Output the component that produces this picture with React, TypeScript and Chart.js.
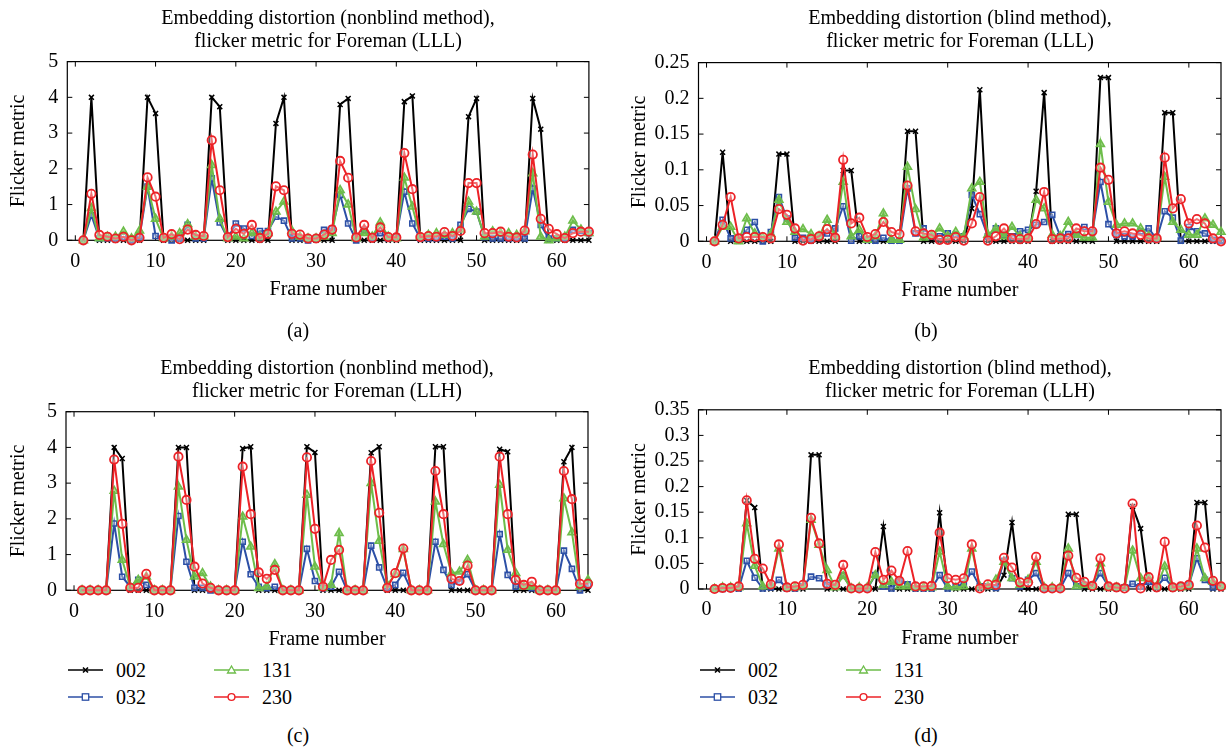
import React, { useEffect, useRef } from 'react';
import { Chart, registerables } from 'chart.js';

Chart.register(...registerables);

const FONT = "'Liberation Serif', 'Times New Roman', serif";

// ---- categories ----
const FRAMES = [1,2,3,4,5,6,7,8,9,10,11,12,13,14,15,16,17,18,19,20,21,22,23,24,25,26,27,28,29,30,31,32,33,34,35,36,37,38,39,40,41,42,43,44,45,46,47,48,49,50,51,52,53,54,55,56,57,58,59,60,61,62,63,64];
const SERIES_NAMES = ['002', '032', '131', '230'];

// ---- tick labels ----
const X_TICK_VALUES = [0, 10, 20, 30, 40, 50, 60];
const X_TICK_LABELS = ['0', '10', '20', '30', '40', '50', '60'];
const Y_TICKS_BIG = [0, 1, 2, 3, 4, 5];
const Y_LABELS_BIG = ['0', '1', '2', '3', '4', '5'];
const Y_TICKS_B = [0, 0.05, 0.1, 0.15, 0.2, 0.25];
const Y_LABELS_B = ['0', '0.05', '0.1', '0.15', '0.2', '0.25'];
const Y_TICKS_D = [0, 0.05, 0.1, 0.15, 0.2, 0.25, 0.3, 0.35];
const Y_LABELS_D = ['0', '0.05', '0.1', '0.15', '0.2', '0.25', '0.3', '0.35'];

// ---- (a) nonblind, LLL ----
const A_002 = [0,4.0,0,0,0,0,0,0, 4.0,3.55,0,0,0,0,0,0, 4.0,3.74,0,0,0,0,0,0, 3.27,4.0,0,0,0,0,0,0, 3.8,3.97,0,0,0,0,0,0, 3.88,4.04,0,0,0,0,0,0, 3.46,3.97,0,0,0,0,0,0, 3.97,3.11,0,0,0,0,0,0];
const A_032 = [0,0.7,0.05,0.05,0.05,0.1,0,0.1, 1.5,0.12,0.05,0,0.05,0.43,0.05,0.05, 1.73,0.5,0.05,0.47,0.33,0.12,0.26,0.26, 0.66,0.55,0.05,0.05,0,0.05,0.29,0.33, 1.27,0.47,0,0.29,0.05,0.2,0.05,0.1, 1.36,0.47,0.05,0.05,0.05,0.1,0.05,0.43, 0.88,0.8,0.09,0.05,0.05,0.05,0.05,0.05, 1.45,0.43,0.05,0.05,0.05,0.29,0.26,0.2];
const A_131 = [0,0.9,0.05,0.1,0.1,0.24,0.05,0.27, 1.5,0.6,0.05,0.1,0.2,0.45,0.1,0.1, 2.1,0.6,0.05,0.1,0.05,0.2,0.1,0.2, 0.8,1.08,0.26,0.1,0.05,0.05,0.1,0.2, 1.4,1.0,0.05,0.2,0.1,0.5,0.1,0.05, 1.75,0.94,0.1,0.15,0.2,0.15,0.2,0.3, 1.08,0.8,0.1,0.25,0.2,0.2,0.15,0.25, 1.87,0.1,0,0.05,0.1,0.55,0.3,0.2];
const A_230 = [0,1.3,0.15,0.1,0.05,0.1,0,0.07, 1.76,1.22,0.07,0.17,0.03,0.3,0.15,0.12, 2.8,1.4,0.09,0.32,0.18,0.43,0.06,0.18, 1.51,1.4,0.18,0.16,0.05,0.05,0.16,0.3, 2.22,1.75,0.08,0.43,0.07,0.36,0.09,0.08, 2.44,1.43,0.09,0.12,0.1,0.23,0.12,0.26, 1.6,1.6,0.2,0.2,0.24,0.1,0.08,0.27, 2.4,0.6,0.32,0.17,0.06,0.2,0.24,0.24];

// ---- (b) blind, LLL ----
const B_002 = [0,0.1245,0,0,0,0,0,0, 0.122,0.122,0,0,0,0,0,0, 0.099,0.099,0,0,0,0,0,0, 0.154,0.154,0,0,0,0,0,0, 0.046,0.212,0,0,0,0,0,0, 0.07,0.208,0,0,0,0,0,0, 0.229,0.229,0,0,0,0,0,0, 0.18,0.18,0,0,0,0,0,0];
const B_032 = [0,0.03,0.004,0.002,0.016,0.027,0,0.013, 0.062,0.032,0.005,0.005,0.003,0.007,0.011,0.018, 0.049,0.001,0.007,0.002,0.001,0.005,0.001,0.001, 0.074,0.011,0.018,0.007,0.007,0.011,0.009,0.007, 0.065,0.038,0.007,0.018,0.009,0.007,0.014,0.016, 0.023,0.027,0.037,0.007,0.01,0.009,0.02,0.013, 0.083,0.024,0.009,0.007,0.007,0.014,0.018,0.003, 0.042,0.033,0.001,0.02,0.014,0.011,0.002,0.001];
const B_131 = [0,0.02,0.02,0,0.032,0.011,0.005,0.01, 0.058,0.027,0.013,0.017,0.01,0.007,0.03,0.007, 0.083,0.007,0.016,0.002,0.007,0.039,0.002,0.002, 0.104,0.045,0.005,0.008,0.018,0.007,0.013,0.007, 0.074,0.083,0.009,0.018,0.007,0.02,0.007,0.005, 0.058,0.046,0.009,0.007,0.027,0.009,0.005,0.005, 0.136,0.055,0.023,0.025,0.025,0.018,0.007,0.005, 0.09,0.027,0.016,0.009,0.009,0.032,0.023,0.013];
const B_230 = [0,0.023,0.062,0.004,0.006,0.006,0.006,0.004, 0.045,0.037,0.018,0.001,0.003,0.007,0.017,0.005, 0.114,0.025,0.033,0.006,0.01,0.027,0.013,0.01, 0.078,0.014,0.011,0.009,0.002,0.002,0.006,0.001, 0.025,0.062,0.001,0.007,0.018,0.004,0.003,0.004, 0.024,0.069,0.003,0.004,0.004,0.018,0.014,0.014, 0.103,0.086,0.011,0.014,0.011,0.009,0.004,0.004, 0.117,0.046,0.059,0.025,0.031,0.025,0.004,0];

// ---- (c) nonblind, LLH ----
const C_002 = [0,0,0,0,4.0,3.69,0,0, 0,0,0,0,4.0,4.0,0,0, 0,0,0,0,3.97,4.02,0,0, 0,0,0,0,4.02,3.86,0,0, 0,0,0,0,3.85,4.02,0,0, 0,0,0,0,4.02,4.02,0,0, 0,0,0,0,3.95,3.88,0,0, 0,0,0,0,3.6,4.0,0,0];
const C_032 = [0,0,0,0,1.87,0.38,0.1,0.29, 0.15,0,0,0,2.08,0.8,0.07,0.07, 0,0,0,0,1.36,0.45,0.1,0.06, 0.1,0,0,0,1.16,0.26,0.06,0.1, 0.52,0,0,0,1.25,0.64,0.06,0.15, 0.49,0,0,0,1.36,0.57,0.15,0.24, 0.45,0,0,0,1.57,0.43,0.1,0.1, 0.06,0,0,0,1.11,0.6,0,0.15];
const C_131 = [0,0,0,0,2.78,0.85,0.1,0.29, 0.38,0,0,0,2.9,1.41,0.38,0.48, 0.1,0,0,0,2.06,1.22,0.06,0.1, 0.73,0,0,0,2.67,0.66,0.07,0.15, 1.6,0,0,0,3.0,1.38,0.15,0.45, 1.15,0,0,0,2.48,1.29,0.48,0.52, 0.85,0,0,0,2.95,1.13,0.48,0.1, 0.1,0,0,0,2.57,1.62,0.1,0.29];
const C_230 = [0,0,0,0,3.66,1.86,0.07,0.07, 0.46,0,0,0,3.74,2.53,0.66,0.19, 0.07,0,0,0,3.46,2.13,0.5,0.32, 0.57,0,0,0,3.72,1.72,0.1,0.85, 1.13,0,0,0,3.62,2.17,0.07,0.48, 1.17,0,0,0,3.34,2.13,0.32,0.26, 0.69,0,0,0,3.74,2.13,0.29,0.15, 0.24,0,0,0,3.34,2.55,0.18,0.18];

// ---- (d) blind, LLH ----
const D_002 = [0,0,0,0,0.173,0.159,0,0, 0,0,0,0,0.262,0.262,0,0, 0,0,0,0,0,0.122,0,0, 0,0,0,0,0.149,0,0,0, 0,0,0,0,0.027,0.13,0,0, 0,0,0,0,0.146,0.146,0,0, 0,0,0,0,0.161,0.118,0,0, 0,0,0,0,0.169,0.169,0,0];
const D_032 = [0,0,0.001,0.001,0.055,0.022,0.001,0.003, 0.018,0.001,0.001,0.005,0.024,0.021,0.008,0.005, 0.026,0.001,0.001,0.001,0.027,0.005,0.001,0.016, 0.009,0.001,0.001,0.001,0.027,0.001,0.005,0.01, 0.034,0.005,0.005,0.002,0.055,0.021,0.005,0.018, 0.031,0.001,0.001,0.001,0.031,0.005,0.008,0.006, 0.031,0.005,0.003,0.003,0.01,0.005,0.014,0.005, 0.022,0.003,0.005,0.008,0.06,0.018,0.003,0.005];
const D_131 = [0,0.003,0.003,0.003,0.128,0.045,0.005,0.008, 0.079,0.003,0.003,0.005,0.135,0.086,0.037,0.003, 0.025,0.001,0.003,0.003,0.027,0.008,0.014,0.005, 0.005,0.003,0.003,0.003,0.073,0.005,0.003,0.005, 0.079,0.005,0.005,0.018,0.053,0.021,0.008,0.018, 0.053,0.003,0.003,0.003,0.079,0.005,0.008,0.005, 0.05,0.003,0.003,0.003,0.075,0.021,0.021,0.005, 0.044,0.003,0.003,0.005,0.079,0.021,0.014,0.005];
const D_230 = [0,0.002,0.002,0.005,0.173,0.059,0.04,0.009, 0.087,0.003,0.005,0.008,0.139,0.089,0.01,0.008, 0.047,0.001,0.001,0.001,0.072,0.018,0.036,0.016, 0.074,0.005,0.005,0.006,0.11,0.021,0.018,0.021, 0.087,0.001,0.009,0.008,0.061,0.042,0.013,0.013, 0.063,0.001,0.001,0.001,0.065,0.022,0.014,0.006, 0.06,0.005,0.003,0.001,0.167,0.001,0.023,0.003, 0.092,0.003,0.005,0.008,0.124,0.081,0.016,0.005];

const COLORS = { s002: '#000000', s032: '#2c4fa6', s131: '#6dbd4a', s230: '#ec2227' };

const SERIES_STYLE: any[] = [
  { color: COLORS.s002, pointStyle: 'crossRot', radius: 3.5, bg: COLORS.s002, pbw: 1.5, order: 3 },
  { color: COLORS.s032, pointStyle: 'rect', radius: 3.6, bg: 'rgba(255,255,255,0.35)', pbw: 1.6, order: 2 },
  { color: COLORS.s131, pointStyle: 'triangle', radius: 4.6, bg: 'rgba(109,189,74,0.55)', pbw: 1.6, order: 1 },
  { color: COLORS.s230, pointStyle: 'circle', radius: 4.2, bg: 'rgba(255,255,255,0.35)', pbw: 1.8, order: 0 },
];

type PanelCfg = {
  canvas: { left: number; top: number; width: number; height: number };
  area: { left: number; top: number; right: number; bottom: number };
  yMax: number;
  yTicks: number[];
  yLabels: string[];
  series: number[][];
  yTitleCenter: number;
  xTitleCenter: number;
};

const PANELS: PanelCfg[] = [
  {
    canvas: { left: 0, top: 0, width: 610, height: 305 },
    area: { left: 67.3, top: 61.6, right: 588.9, bottom: 240.3 },
    yMax: 5, yTicks: Y_TICKS_BIG, yLabels: Y_LABELS_BIG,
    series: [A_002, A_032, A_131, A_230],
    yTitleCenter: 19, xTitleCenter: 290,
  },
  {
    canvas: { left: 615, top: 0, width: 616, height: 305 },
    area: { left: 698.5, top: 62.6, right: 1221, bottom: 241.3 },
    yMax: 0.25, yTicks: Y_TICKS_B, yLabels: Y_LABELS_B,
    series: [B_002, B_032, B_131, B_230],
    yTitleCenter: 640, xTitleCenter: 291,
  },
  {
    canvas: { left: 0, top: 330, width: 610, height: 325 },
    area: { left: 66, top: 411.7, right: 588, bottom: 590.3 },
    yMax: 5, yTicks: Y_TICKS_BIG, yLabels: Y_LABELS_BIG,
    series: [C_002, C_032, C_131, C_230],
    yTitleCenter: 19, xTitleCenter: 640,
  },
  {
    canvas: { left: 615, top: 330, width: 616, height: 325 },
    area: { left: 698.5, top: 409.8, right: 1221, bottom: 589 },
    yMax: 0.35, yTicks: Y_TICKS_D, yLabels: Y_LABELS_D,
    series: [D_002, D_032, D_131, D_230],
    yTitleCenter: 640, xTitleCenter: 639,
  },
];

const boxPlugin = {
  id: 'matlabBox',
  beforeDatasetsDraw(chart: any) {
    const { ctx, chartArea, scales } = chart;
    const { left, right, top, bottom } = chartArea;
    const tl = 5;
    ctx.save();
    ctx.strokeStyle = '#000';
    ctx.lineWidth = 1.2;
    ctx.strokeRect(left, top, right - left, bottom - top);
    ctx.beginPath();
    for (const v of X_TICK_VALUES) {
      const px = scales.x.getPixelForValue(v);
      ctx.moveTo(px, bottom); ctx.lineTo(px, bottom - tl);
      ctx.moveTo(px, top); ctx.lineTo(px, top + tl);
    }
    for (const t of scales.y.ticks) {
      const py = scales.y.getPixelForValue(t.value);
      ctx.moveTo(left, py); ctx.lineTo(left + tl, py);
      ctx.moveTo(right, py); ctx.lineTo(right - tl, py);
    }
    ctx.lineWidth = 1;
    ctx.stroke();
    ctx.restore();
  },
};

function PanelChart({ cfg }: { cfg: PanelCfg }) {
  const ref = useRef<HTMLCanvasElement>(null);
  useEffect(() => {
    const c = cfg.canvas;
    const a = cfg.area;
    const yWidth = a.left - c.left;
    const xHeight = c.top + c.height - a.bottom;
    const padTop = a.top - c.top;
    const padRight = c.left + c.width - a.right;
    const lh = 24;
    const xTitlePadBottom = c.top + c.height - cfg.xTitleCenter - lh / 2;
    const yTitlePadTop = cfg.yTitleCenter - c.left - lh / 2;

    const datasets = cfg.series.map((vals, si) => {
      const st = SERIES_STYLE[si];
      return {
        label: SERIES_NAMES[si],
        data: FRAMES.map((f, i) => ({ x: f, y: vals[i] })),
        borderColor: st.color,
        backgroundColor: st.bg,
        borderWidth: 2,
        pointStyle: st.pointStyle,
        pointRadius: st.radius,
        pointBorderWidth: st.pbw,
        pointBorderColor: st.color,
        pointBackgroundColor: st.bg,
        tension: 0,
        fill: false,
        clip: false,
        order: st.order,
      };
    });

    const chart = new Chart(ref.current as HTMLCanvasElement, {
      type: 'line',
      data: { datasets } as any,
      options: {
        animation: false,
        responsive: false,
        maintainAspectRatio: false,
        events: [],
        layout: { padding: { top: padTop, right: padRight, left: 0, bottom: 0 } },
        plugins: {
          legend: { display: false },
          tooltip: { enabled: false },
          title: { display: false },
        },
        scales: {
          x: {
            type: 'linear',
            min: -1,
            max: 64,
            grid: { display: false, drawTicks: false },
            border: { display: false },
            afterBuildTicks: (s: any) => { s.ticks = X_TICK_VALUES.map((v) => ({ value: v })); },
            afterFit: (s: any) => { s.height = xHeight; },
            ticks: {
              autoSkip: false,
              maxRotation: 0,
              padding: 9,
              color: '#000',
              font: { family: FONT, size: 20 },
              callback: (_v: any, i: number) => X_TICK_LABELS[i],
            },
            title: {
              display: true,
              text: 'Frame number',
              color: '#000',
              font: { family: FONT, size: 20, lineHeight: 1.2 },
              padding: { top: 0, bottom: xTitlePadBottom },
            },
          },
          y: {
            type: 'linear',
            min: 0,
            max: cfg.yMax,
            grid: { display: false, drawTicks: false },
            border: { display: false },
            afterBuildTicks: (s: any) => { s.ticks = cfg.yTicks.map((v) => ({ value: v })); },
            afterFit: (s: any) => { s.width = yWidth; },
            ticks: {
              autoSkip: false,
              padding: 9,
              color: '#000',
              font: { family: FONT, size: 20 },
              callback: (_v: any, i: number) => cfg.yLabels[i],
            },
            title: {
              display: true,
              text: 'Flicker metric',
              color: '#000',
              font: { family: FONT, size: 20, lineHeight: 1.2 },
              padding: { top: yTitlePadTop, bottom: 0 },
            },
          },
        },
      } as any,
      plugins: [boxPlugin],
    });
    return () => chart.destroy();
  }, [cfg]);
  const c = cfg.canvas;
  return (
    <canvas
      ref={ref}
      width={c.width}
      height={c.height}
      style={{ position: 'absolute', left: c.left, top: c.top, width: c.width, height: c.height }}
    />
  );
}

const TITLES = [
  { lines: ['Embedding distortion (nonblind method),', 'flicker metric for Foreman (LLL)'], cx: 328, top: 5.5 },
  { lines: ['Embedding distortion (blind method),', 'flicker metric for Foreman (LLL)'], cx: 960, top: 5.5 },
  { lines: ['Embedding distortion (nonblind method),', 'flicker metric for Foreman (LLH)'], cx: 327, top: 355.5 },
  { lines: ['Embedding distortion (blind method),', 'flicker metric for Foreman (LLH)'], cx: 960, top: 355.5 },
];

const PANEL_LABELS = [
  { text: '(a)', cx: 298, cy: 330 },
  { text: '(b)', cx: 926, cy: 330 },
  { text: '(c)', cx: 298, cy: 735 },
  { text: '(d)', cx: 926, cy: 735 },
];

function Marker({ si }: { si: number }) {
  const st = SERIES_STYLE[si];
  const cx = 17.5, cy = 6;
  let m: any = null;
  if (st.pointStyle === 'crossRot') {
    m = <path d={`M${cx - 2.5} ${cy - 2.5} L${cx + 2.5} ${cy + 2.5} M${cx - 2.5} ${cy + 2.5} L${cx + 2.5} ${cy - 2.5}`} stroke={st.color} strokeWidth={1.6} />;
  } else if (st.pointStyle === 'rect') {
    m = <rect x={cx - 3.2} y={cy - 3.2} width={6.4} height={6.4} fill="#fff" stroke={st.color} strokeWidth={1.3} />;
  } else if (st.pointStyle === 'triangle') {
    m = <polygon points={`${cx},${cy - 4} ${cx + 4},${cy + 3} ${cx - 4},${cy + 3}`} fill="#fff" stroke={st.color} strokeWidth={1.3} />;
  } else {
    m = <circle cx={cx} cy={cy} r={3.4} fill="#fff" stroke={st.color} strokeWidth={1.4} />;
  }
  return (
    <svg width={36} height={12} style={{ position: 'absolute', left: 0, top: -6 }}>
      <line x1={0} y1={cy} x2={35} y2={cy} stroke={st.color} strokeWidth={1.6} />
      {m}
    </svg>
  );
}

const LEGEND_LAYOUT = [
  { si: 0, col: 0, row: 0 },
  { si: 1, col: 0, row: 1 },
  { si: 2, col: 1, row: 0 },
  { si: 3, col: 1, row: 1 },
];

function Legend({ left, top }: { left: number; top: number }) {
  return (
    <>
      {LEGEND_LAYOUT.map((it) => (
        <div key={it.si} style={{ position: 'absolute', left: left + it.col * 146, top: top + it.row * 27 }}>
          <Marker si={it.si} />
          <div style={{ position: 'absolute', left: 48, top: -12, fontFamily: FONT, fontSize: 20, lineHeight: '24px', whiteSpace: 'nowrap', color: '#000' }}>
            {SERIES_NAMES[it.si]}
          </div>
        </div>
      ))}
    </>
  );
}

export default function App() {
  return (
    <div style={{ position: 'absolute', left: 0, top: 0, width: 1231, height: 747, background: '#fff', overflow: 'hidden' }}>
      {PANELS.map((p, i) => (
        <PanelChart key={i} cfg={p} />
      ))}
      {TITLES.map((t, i) => (
        <div
          key={i}
          style={{
            position: 'absolute', left: t.cx - 300, top: t.top, width: 600, textAlign: 'center',
            fontFamily: FONT, fontSize: 20, lineHeight: '23px', color: '#000', whiteSpace: 'nowrap',
          }}
        >
          {t.lines.map((l, j) => (<div key={j}>{l}</div>))}
        </div>
      ))}
      {PANEL_LABELS.map((p, i) => (
        <div
          key={i}
          style={{
            position: 'absolute', left: p.cx - 30, top: p.cy - 12, width: 60, textAlign: 'center',
            fontFamily: FONT, fontSize: 20, lineHeight: '24px', color: '#000',
          }}
        >
          {p.text}
        </div>
      ))}
      <Legend left={68} top={670} />
      <Legend left={700} top={670} />
    </div>
  );
}
